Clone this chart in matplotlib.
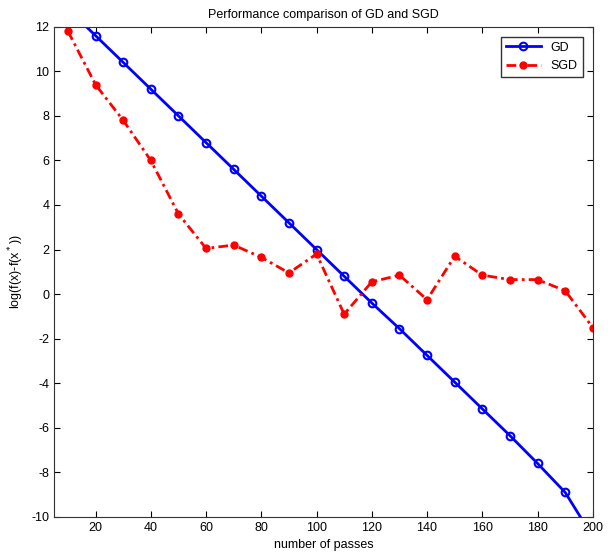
import matplotlib
matplotlib.use("Agg")
import matplotlib.pyplot as plt

plt.rcParams['font.family'] = ['Liberation Sans', 'DejaVu Sans']
plt.rcParams['axes.unicode_minus'] = False

# passes
passes = [10, 20, 30, 40, 50, 60, 70, 80, 90, 100,
          110, 120, 130, 140, 150, 160, 170, 180, 190, 200]

# log(f(x)-f(x*)) for each method
gd = [12.8, 11.6, 10.4, 9.2, 8.0, 6.8, 5.6, 4.4, 3.2, 2.0,
      0.8, -0.4, -1.55, -2.75, -3.95, -5.15, -6.35, -7.6, -8.9, -10.9]
sgd = [11.8, 9.4, 7.8, 6.0, 3.6, 2.05, 2.2, 1.65, 0.95, 1.8,
       -0.9, 0.55, 0.85, -0.25, 1.7, 0.85, 0.65, 0.65, 0.15, -1.5]

fig = plt.figure(figsize=(6.08, 5.57), dpi=100)
ax = fig.add_axes([0.089, 0.072, 0.886, 0.88])

ax.plot(passes, gd, '-o', color='#0000ff', lw=2, ms=5.5,
        mfc='none', mew=1.5, label='GD')
ax.plot(passes, sgd, '-o', color='#ff0000', lw=2, ms=5,
        mfc='#ff0000', dashes=[3.5, 1.5, 1, 1.5], label='SGD')

ax.set_xlim(5, 200)
ax.set_ylim(-10, 12)
ax.set_xticks(range(20, 201, 20))
ax.set_yticks(range(-10, 13, 2))
ax.tick_params(direction='in', top=True, right=True, labelsize=9,
               length=4, width=0.8)
for s in ax.spines.values():
    s.set_linewidth(0.8)
    s.set_color('#333333')

ax.set_title('Performance comparison of GD and SGD', fontsize=9)
ax.set_xlabel('number of passes', fontsize=9)
ax.set_ylabel('log(f(x)-f(x$^*$))', fontsize=9)

ax.legend(loc='upper right', fontsize=9, fancybox=False, edgecolor='#333333',
          framealpha=1, borderaxespad=0.8, handlelength=2.8)

fig.savefig('out.png', dpi=100)
